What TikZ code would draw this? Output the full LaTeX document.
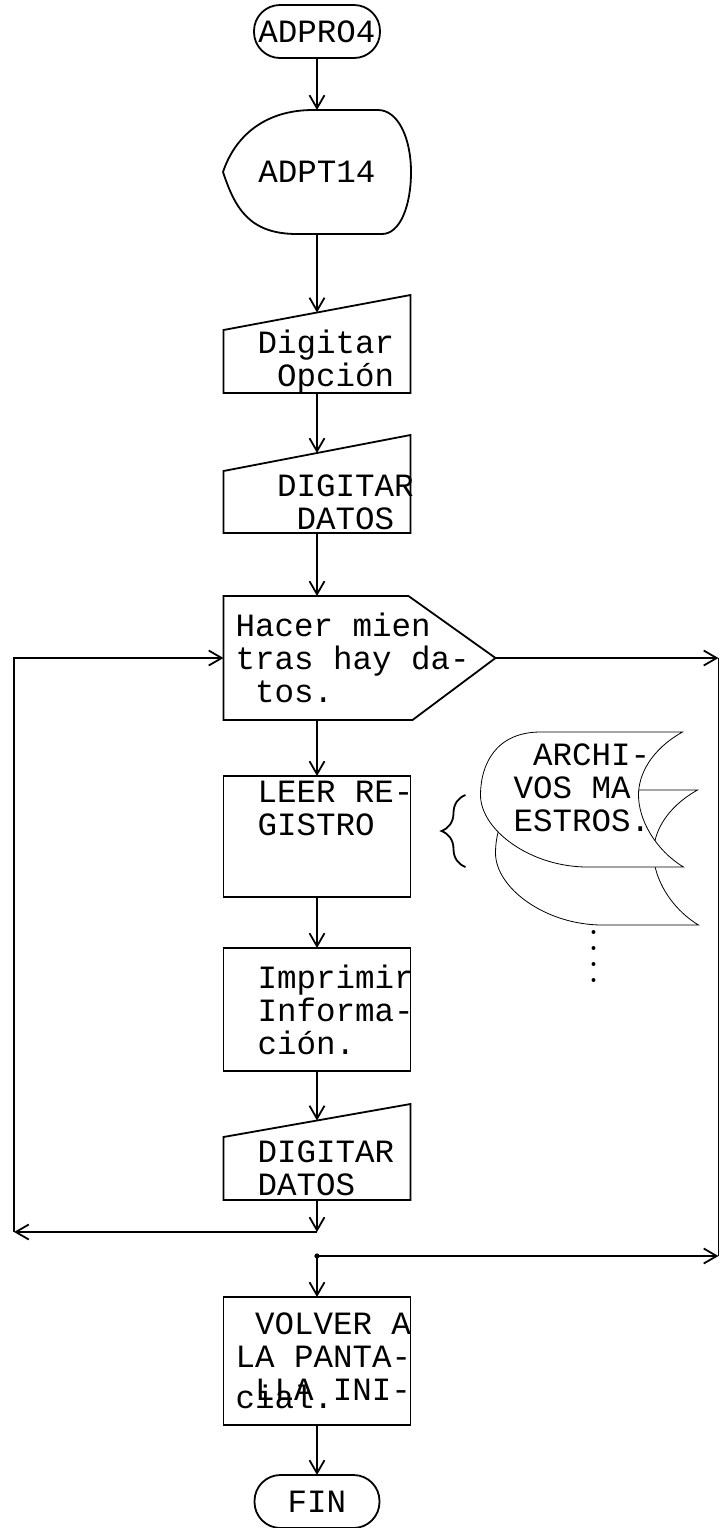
\documentclass[tikz,border=0pt]{standalone}
\usepackage{fontspec}
\setmonofont{Liberation Mono}
\usetikzlibrary{positioning,arrows.meta,calc,backgrounds,decorations.pathreplacing}

\begin{document}
\begin{tikzpicture}[
    font=\ttfamily\fontsize{16.25}{16.5}\selectfont,
    line width=0.9pt,
    every node/.style={outer sep=0pt},
    term/.style={
        draw,
        rounded corners=13pt,
        minimum width=63pt,
        minimum height=26.5pt,
        inner sep=0pt
    },
    shown/.style={minimum width=94pt, minimum height=62pt, inner sep=0pt},
    block/.style={
        draw,
        minimum width=93.5pt,
        text width=81.5pt,
        inner xsep=6pt,
        inner ysep=-2pt,
        align=left,
        execute at begin node={\spaceskip=9.75pt\leftskip=11pt}
    },
    manin/.style={block, draw=none, inner ysep=-3.5pt},
    flush/.style={execute at begin node={\leftskip=0pt}},
    loopbox/.style={block, draw=none, flush, minimum width=136pt, text width=124pt},
    store/.style={
        minimum width=101.5pt,
        minimum height=67.5pt,
        text width=68.5pt,
        inner xsep=16.5pt,
        inner ysep=0pt,
        align=left,
        execute at begin node={\spaceskip=9.75pt}
    },
    arrow/.style={-{Straight Barb[length=6.5pt,width=7.5pt]}}
]
\useasboundingbox (0,0) rectangle (360pt,-764pt);

% ============================================================
% COLUMNA PRINCIPAL
% ============================================================
\node[term] (adpro) at (158.5pt,-15.75pt) {ADPRO4};
\node[shown, below=26pt of adpro] (adpt) {ADPT14};
\node[manin, minimum height=31.5pt, below=48pt of adpt] (opcion) {Digitar\\~Opción};
\node[manin, minimum height=31pt, below=39pt of opcion] (datos) {~DIGITAR\\~~DATOS};
\node[loopbox, minimum height=62pt, below=31.5pt of datos.south west, anchor=north west] (hacer)
    {Hacer mien\\tras hay da-\\~tos.};
\node[block, minimum height=60.5pt, below=28pt of hacer.south west, anchor=north west] (leer)
    {LEER~RE-\\GISTRO\\[11.5pt]\mbox{}};
\node[block, minimum height=61.5pt, below=25.5pt of leer] (imprimir) {Imprimir\\Informa-\\ción.};
\node[manin, minimum height=31.5pt, below=33pt of imprimir] (datosb) {DIGITAR\\DATOS};
\node[block, flush, minimum height=64pt, below=48.5pt of datosb] (volver)
    {~VOLVER~A\\LA~PANTA-\\~LLA~INI-\\[-12.5pt]cial.};
\node[term, minimum width=62.5pt, below=25pt of volver] (fin) {FIN};

% contornos de los simbolos
\draw (adpt.west) .. controls +(6pt,18pt) and +(-24pt,0pt) .. ([xshift=45pt]adpt.north west)
    -- ([xshift=-16.5pt]adpt.north east) .. controls +(10pt,0pt) and +(0pt,17pt) .. (adpt.east)
    .. controls +(0pt,-17pt) and +(9pt,0pt) .. ([xshift=-14.5pt]adpt.south east)
    -- ([xshift=37pt]adpt.south west) .. controls +(-24pt,0pt) and +(6pt,-18pt) .. (adpt.west);
\draw (opcion.south west) -- (opcion.north west)
    -- coordinate[midway] (opcion in) ([yshift=17.5pt]opcion.north east)
    -- (opcion.south east) -- cycle;
\draw (datos.south west) -- (datos.north west)
    -- coordinate[midway] (datos in) ([yshift=18pt]datos.north east)
    -- (datos.south east) -- cycle;
\draw (datosb.south west) -- (datosb.north west)
    -- coordinate[midway] (datosb in) ([yshift=16.5pt]datosb.north east)
    -- (datosb.south east) -- cycle;
\draw (hacer.north west) -- ([xshift=-43.5pt]hacer.north east) -- (hacer.east)
    -- ([xshift=-41.5pt]hacer.south east) -- (hacer.south west) -- cycle;

% ============================================================
% ARCHIVOS MAESTROS
% ============================================================
\node[store, above right=22pt and 35pt of leer.north east, anchor=north west] (maestros)
    {~ARCHI-\\VOS MA\\ESTROS.\\[-5pt]\mbox{}};
\begin{scope}[on background layer]
\foreach \dx/\dy in {7.5pt/-29pt, 0pt/0pt}
    \draw[fill=white, shift={($(maestros.north west)+(\dx,\dy)$)}]
        (30pt,0pt) -- (101pt,0pt)
        .. controls (85pt,-9pt) and (79pt,-21.5pt) .. (79pt,-31.5pt)
        .. controls (79pt,-44pt) and (87.5pt,-59pt) .. (101.5pt,-67.5pt)
        -- (53.5pt,-67.5pt)
        .. controls (25pt,-67.5pt) and (0pt,-49pt) .. (0pt,-31.5pt)
        .. controls (0pt,-16.5pt) and (7.5pt,0pt) .. (30pt,0pt) -- cycle;
\end{scope}
\coordinate[left=7.5pt of maestros.south west] (llave b);
\coordinate[above=36pt of llave b] (llave a);
\draw[decorate, decoration={brace, amplitude=12pt}] (llave b) -- (llave a);
\foreach \k in {0,...,3}
    \fill ([xshift=5.75pt, yshift={-32.5pt-8pt*\k}]maestros.south) circle (1pt);

% ============================================================
% CONECTORES
% ============================================================
\draw[arrow] (adpro) -- (adpt);
\draw[arrow] (adpt) -- (opcion in);
\draw[arrow] (opcion) -- (datos in);
\draw[arrow] (datos) -- (datos |- hacer.north);
\draw[arrow] (leer |- hacer.south) -- (leer);
\draw[arrow] (leer) -- (imprimir);
\draw[arrow] (imprimir) -- (datosb in);

% regreso al ciclo
\coordinate[below=16pt of datosb.south] (vuelta a);
\coordinate[left=151.5pt of vuelta a] (vuelta b);
\draw[arrow] (datosb) -- (vuelta a);
\draw[arrow] (vuelta a) -- (vuelta b);
\draw[arrow] (vuelta b) |- (hacer.west);

% salida del ciclo
\coordinate[right=111.5pt of hacer.east] (salida a);
\coordinate[above=20.5pt of volver.north] (union);
\coordinate (salida b) at (salida a |- union);
\draw[arrow] (hacer.east) -- (salida a);
\draw (salida a) -- (salida b);
\draw[arrow] (union) -- (salida b);
\fill (union) circle (1.3pt);
\draw[arrow] (union) -- (volver);
\draw[arrow] (volver) -- (fin);

\end{tikzpicture}
\end{document}
